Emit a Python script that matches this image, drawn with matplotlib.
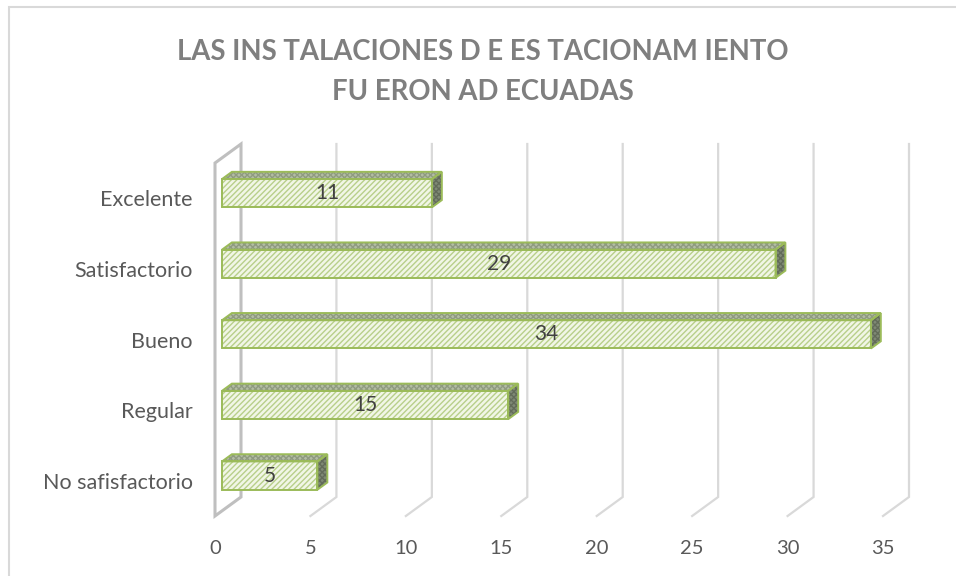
import matplotlib.pyplot as plt
from matplotlib.patches import Polygon, Rectangle
import numpy as np

plt.rcParams['font.family'] = ['Lato', 'DejaVu Sans']
plt.rcParams['hatch.linewidth'] = 1.0

# data
categories = ['No safisfactorio', 'Regular', 'Bueno', 'Satisfactorio', 'Excelente']
values = [5, 15, 34, 29, 11]
xticks = [0, 5, 10, 15, 20, 25, 30, 35]
title_lines = ['LAS INS TALACIONES D E ES TACIONAM IENTO', 'FU ERON AD ECUADAS']

W, H = 956, 576
fig = plt.figure(figsize=(W / 100, H / 100), dpi=100)

# front plane of the plot area (pixels, from top-left)
left, right, top, bottom = 215, 883, 163, 516
ax = fig.add_axes([left / W, 1 - bottom / H, (right - left) / W, (bottom - top) / H])
ax.set_xlim(0, 35)
ax.set_ylim(-0.5, 4.5)
ax.patch.set_alpha(0)
for s in ax.spines.values():
    s.set_visible(False)

# depth vector (data units) from front plane to back wall
px_x = (right - left) / 35.0
px_y = (bottom - top) / 5.0
Dx, Dy = 26 / px_x, 19 / px_y

grid_col = '#d9d9d9'
wall_col = '#bfbfbf'

# back gridlines + floor diagonals
for v in xticks[1:]:
    ax.plot([v + Dx, v + Dx, v], [4.5 + Dy, -0.5 + Dy, -0.5], color=grid_col,
            lw=1.6, clip_on=False, zorder=1, solid_joinstyle='miter')

# left wall outline
ax.add_patch(Polygon([(0, -0.5), (0, 4.5), (Dx, 4.5 + Dy), (Dx, -0.5 + Dy)],
                     closed=True, fill=False, edgecolor=wall_col, lw=2.2,
                     joinstyle='miter', clip_on=False, zorder=1))

# bars
f1, f2 = 0.27, 0.65
h = 0.2
green = '#9bbb59'
for i, v in enumerate(values):
    x0, y0 = f1 * Dx, i + f1 * Dy
    x1, y1 = f2 * Dx, i + f2 * Dy
    # front face
    ax.add_patch(Rectangle((x0, y0 - h), v, 2 * h, facecolor='#f1f6e6',
                           edgecolor='#b8cf8a', hatch='//////', lw=0, zorder=3, clip_on=False))
    ax.add_patch(Rectangle((x0, y0 - h), v, 2 * h, fill=False,
                           edgecolor=green, lw=1.4, zorder=4, clip_on=False))
    # top face
    topf = [(x0, y0 + h), (x0 + v, y0 + h), (x1 + v, y1 + h), (x1, y1 + h)]
    ax.add_patch(Polygon(topf, closed=True, facecolor='#b3bda4', edgecolor='#8f9b80',
                         hatch='xxxxxx', lw=0, zorder=3, clip_on=False))
    ax.add_patch(Polygon(topf, closed=True, fill=False, edgecolor=green,
                         lw=1.4, zorder=4, clip_on=False))
    # side face
    side = [(x0 + v, y0 - h), (x0 + v, y0 + h), (x1 + v, y1 + h), (x1 + v, y1 - h)]
    ax.add_patch(Polygon(side, closed=True, facecolor='#7f8975', edgecolor='#626b59',
                         hatch='xxxxxx', lw=0, zorder=3, clip_on=False))
    ax.add_patch(Polygon(side, closed=True, fill=False, edgecolor=green,
                         lw=1.4, zorder=4, clip_on=False))
    # value label
    ax.text(x0 + v / 2, y0, str(v), ha='center', va='center', fontsize=15,
            color='#404040', zorder=5)

ax.set_xticks(xticks)
ax.set_yticks(range(len(categories)))
ax.set_yticklabels(categories)
ax.tick_params(axis='x', length=0, pad=17, labelsize=14.5, labelcolor='#595959')
ax.tick_params(axis='y', length=0, pad=16, labelsize=15.5, labelcolor='#595959')

# title
fig.text(483 / W, 1 - 52 / H, title_lines[0], ha='center', va='center',
         fontsize=19.8, fontweight='bold', color='#7f7f7f')
fig.text(483 / W, 1 - 92 / H, title_lines[1], ha='center', va='center',
         fontsize=19.8, fontweight='bold', color='#7f7f7f')

# chart border
fig.add_artist(Rectangle((8.5 / W, -0.1), 1.2, 1 - 6.5 / H + 0.1, transform=fig.transFigure,
                         fill=False, edgecolor=grid_col, lw=1.5))

fig.savefig('out.png', dpi=100, facecolor='white')
